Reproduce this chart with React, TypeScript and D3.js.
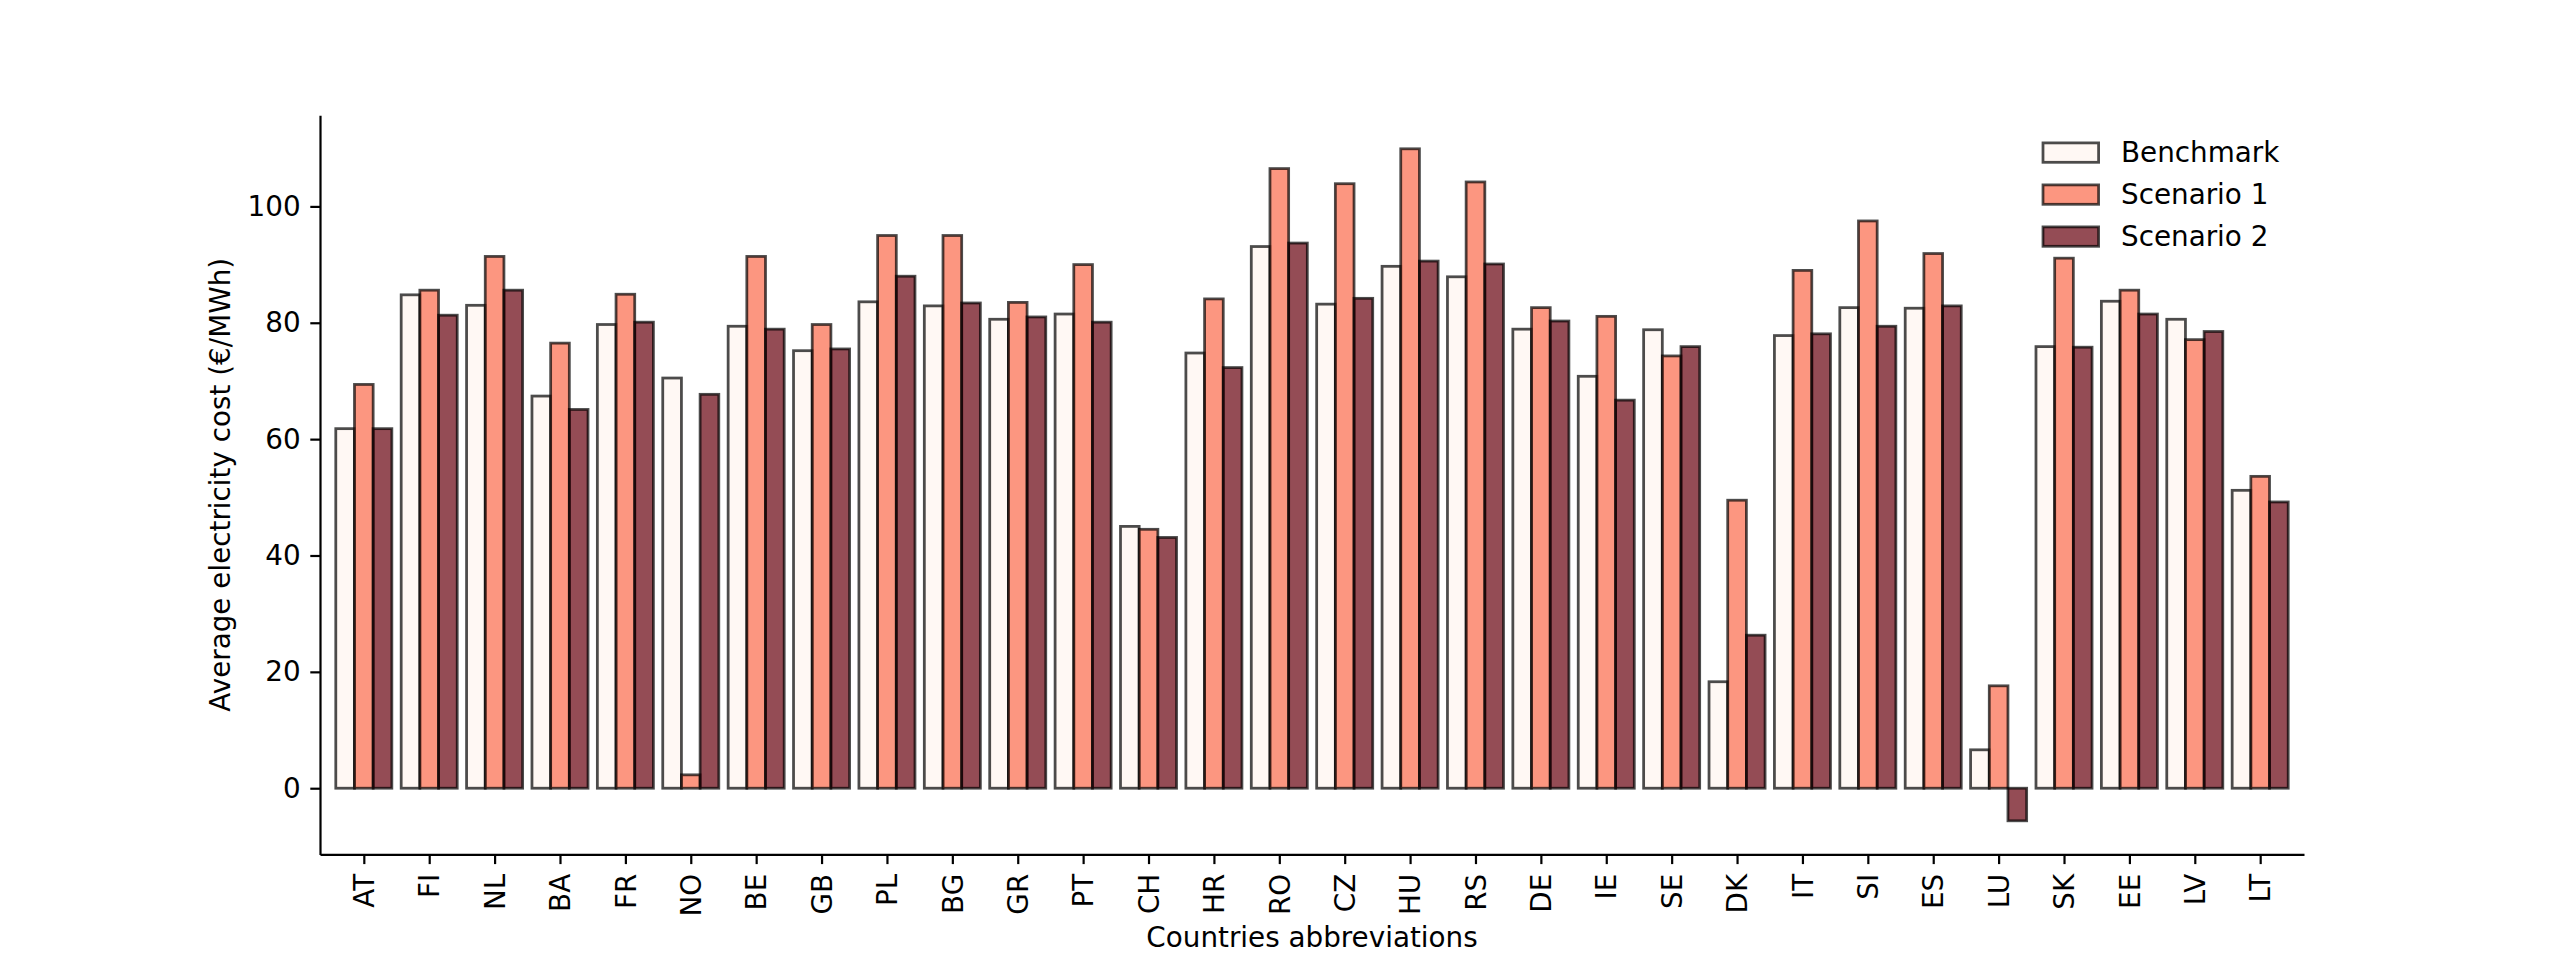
import React, { useRef, useEffect } from 'react';
import * as d3 from 'd3';

const countries = ['AT', 'FI', 'NL', 'BA', 'FR', 'NO', 'BE', 'GB', 'PL', 'BG', 'GR', 'PT', 'CH', 'HR', 'RO',
  'CZ', 'HU', 'RS', 'DE', 'IE', 'SE', 'DK', 'IT', 'SI', 'ES', 'LU', 'SK', 'EE', 'LV', 'LT'];

const benchmark = [61.8, 84.8, 83.0, 67.4, 79.7, 70.5, 79.4, 75.2, 83.6, 82.9, 80.6, 81.5, 45.0, 74.8, 93.1,
  83.2, 89.7, 87.9, 78.9, 70.8, 78.8, 18.3, 77.8, 82.6, 82.5, 6.6, 75.9, 83.7, 80.6, 51.2];
const scenario1 = [69.4, 85.6, 91.4, 76.5, 84.9, 2.3, 91.4, 79.7, 95.0, 95.0, 83.5, 90.0, 44.5, 84.1, 106.5,
  103.9, 109.9, 104.2, 82.6, 81.1, 74.3, 49.5, 89.0, 97.5, 91.9, 17.6, 91.1, 85.6, 77.1, 53.6];
const scenario2 = [61.8, 81.3, 85.6, 65.1, 80.1, 67.7, 78.9, 75.5, 88.0, 83.4, 81.0, 80.1, 43.1, 72.3, 93.7,
  84.2, 90.6, 90.1, 80.3, 66.7, 75.9, 26.3, 78.1, 79.4, 82.9, -5.6, 75.8, 81.5, 78.5, 49.2];

const seriesNames = ['Benchmark', 'Scenario 1', 'Scenario 2'];
const seriesColors = ['#fff5f0', '#fb6a4a', '#67000d'];
const yTicks = [0, 20, 40, 60, 80, 100];

function App() {
  const ref = useRef<SVGSVGElement>(null);

  useEffect(() => {
    const svg = d3.select(ref.current);
    svg.selectAll('*').remove();

    const left = 320, right = 2304, top = 115.2, bottom = 854.4;
    const fs = 27.8;
    const series = [benchmark, scenario1, scenario2];

    const all = series.flat();
    const lo = Math.min(0, d3.min(all)!), hi = d3.max(all)!;
    const pad = (hi - lo) * 0.05;

    const x = d3.scaleLinear().domain([-0.67, countries.length - 1 + 0.67]).range([left, right]);
    const y = d3.scaleLinear().domain([lo - pad, hi + pad]).range([bottom, top]);
    const bw = 0.2857;

    // bars, series by series like matplotlib
    series.forEach((vals, s) => {
      svg.append('g')
        .selectAll('rect')
        .data(vals)
        .enter().append('rect')
        .attr('x', (d, i) => x(i + (s - 1) * bw - bw / 2))
        .attr('y', d => y(Math.max(0, d)))
        .attr('width', x(bw) - x(0))
        .attr('height', d => Math.abs(y(d) - y(0)))
        .attr('fill', seriesColors[s])
        .attr('fill-opacity', 0.7)
        .attr('stroke', '#000')
        .attr('stroke-opacity', 0.7)
        .attr('stroke-width', 2.78);
    });

    const gx = svg.append('g')
      .attr('transform', `translate(0,${bottom})`)
      .call(d3.axisBottom(x)
        .tickValues(d3.range(countries.length))
        .tickFormat(i => countries[i as number])
        .tickSize(9.7)
        .tickSizeOuter(0)
        .tickPadding(9.7));
    gx.selectAll('text')
      .attr('transform', 'rotate(-90)')
      .attr('text-anchor', 'end')
      .attr('x', -19.4)
      .attr('y', 0)
      .attr('dy', '0.35em');

    const gy = svg.append('g')
      .attr('transform', `translate(${left},0)`)
      .call(d3.axisLeft(y).tickValues(yTicks).tickSize(9.7).tickSizeOuter(0).tickPadding(9.7));

    [gx, gy].forEach(g => {
      g.select('.domain').attr('stroke', '#000').attr('stroke-width', 2.2);
      g.selectAll('.tick line').attr('stroke', '#000').attr('stroke-width', 2.2);
      g.selectAll('.tick text')
        .attr('font-family', 'DejaVu Sans')
        .attr('font-size', fs)
        .attr('fill', '#000');
    });

    svg.append('text')
      .attr('x', (left + right) / 2)
      .attr('y', 947)
      .attr('text-anchor', 'middle')
      .attr('font-family', 'DejaVu Sans')
      .attr('font-size', fs)
      .text('Countries abbreviations');

    svg.append('text')
      .attr('transform', `translate(230,${(top + bottom) / 2}) rotate(-90)`)
      .attr('text-anchor', 'middle')
      .attr('font-family', 'DejaVu Sans')
      .attr('font-size', fs)
      .text('Average electricity cost (€/MWh)');

    // legend, no frame
    const lg = svg.append('g').attr('transform', 'translate(2043,152.6)');
    seriesNames.forEach((name, i) => {
      const row = lg.append('g').attr('transform', `translate(0,${i * 42})`);
      row.append('rect')
        .attr('x', 0).attr('y', -9.7)
        .attr('width', 55.6).attr('height', 19.4)
        .attr('fill', seriesColors[i])
        .attr('fill-opacity', 0.7)
        .attr('stroke', '#000')
        .attr('stroke-opacity', 0.7)
        .attr('stroke-width', 2.78);
      row.append('text')
        .attr('x', 78)
        .attr('y', 0)
        .attr('dy', '0.35em')
        .attr('font-family', 'DejaVu Sans')
        .attr('font-size', fs)
        .text(name);
    });
  }, []);

  return (
    <svg ref={ref} width="2560" height="960"
      style={{ position: 'absolute', left: 0, top: 0, display: 'block', background: '#fff' }}></svg>
  );
}

export default App;
